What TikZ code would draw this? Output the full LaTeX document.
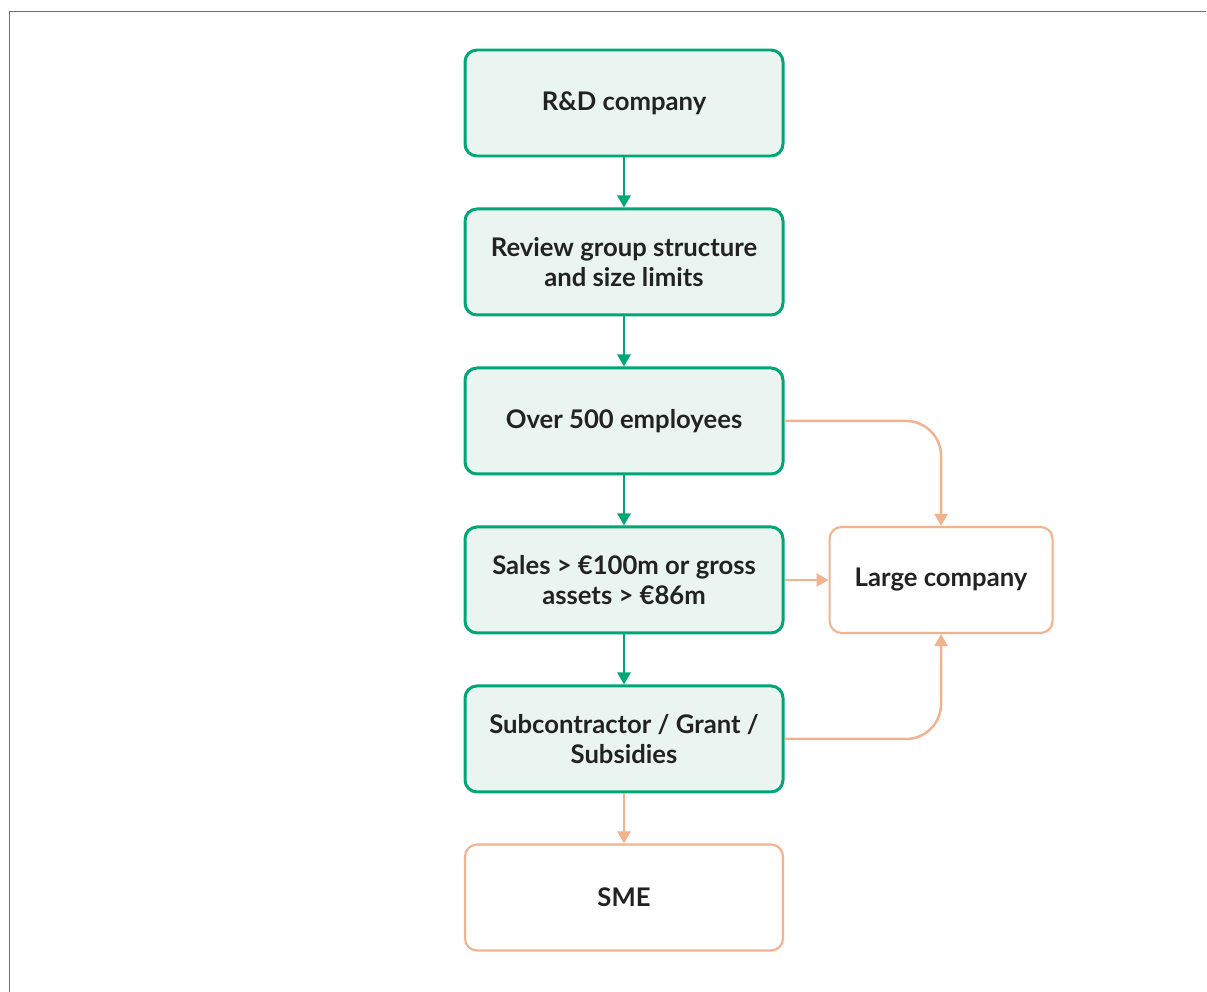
\documentclass[tikz,border=0pt]{standalone}
\usepackage{fontspec}
\setmainfont{Lato}
\usetikzlibrary{positioning,arrows.meta}
\definecolor{flowgreen}{RGB}{0,166,118}
\definecolor{flowfill}{RGB}{234,244,240}
\definecolor{floworange}{RGB}{240,179,142}
\definecolor{flowtext}{RGB}{34,34,34}
\tikzset{
  stepbox/.style={draw=flowgreen, fill=flowfill, line width=1.7pt, rounded corners=0.24cm,
    minimum width=6.36cm, minimum height=2.12cm, align=center, text=flowtext,
    font=\fontsize{14.6}{17}\selectfont\bfseries},
  endbox/.style={stepbox, draw=floworange, fill=white, line width=1.2pt},
  greenarrow/.style={draw=flowgreen, line width=1.6pt, -{Triangle[length=0.24cm,width=0.26cm]}},
  orangearrow/.style={draw=floworange, line width=1.4pt, -{Triangle[length=0.24cm,width=0.26cm]}}
}
\begin{document}
\begin{tikzpicture}[node distance=1.0cm]
  \useasboundingbox (0,0) rectangle (24.14,-19.84);
  \draw[flowgreen, line width=0.5pt] (0.18,-19.84) |- (24.12,-0.22);
  % main column
  \node[stepbox] (rd) at (12.48,-2.06) {R\&D company};
  \node[stepbox, below=of rd] (review) {Review group structure\\and size limits};
  \node[stepbox, below=of review] (staff) {Over 500 employees};
  \node[stepbox, below=of staff] (sales) {Sales > €100m or gross\\assets > €86m};
  \node[stepbox, below=of sales] (grant) {Subcontractor / Grant /\\Subsidies};
  \node[endbox, below=of grant] (sme) {SME};
  \node[endbox, minimum width=4.46cm, right=0.88cm of sales] (large) {Large company};
  % connectors
  \draw[greenarrow] (rd) -- (review);
  \draw[greenarrow] (review) -- (staff);
  \draw[greenarrow] (staff) -- (sales);
  \draw[greenarrow] (sales) -- (grant);
  \draw[orangearrow] (grant) -- (sme);
  \draw[orangearrow] (sales) -- (large);
  \draw[orangearrow, rounded corners=0.7cm] (staff.east) -| (large.north);
  \draw[orangearrow, rounded corners=0.7cm] (grant.east) -| (large.south);
\end{tikzpicture}
\end{document}
